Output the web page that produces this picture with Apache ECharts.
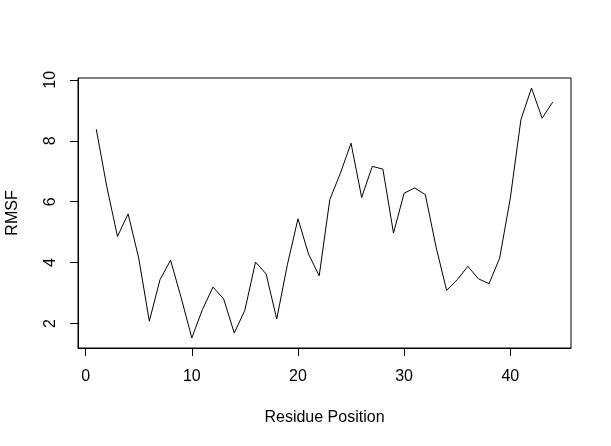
<!DOCTYPE html>
<html>
<head>
<meta charset="utf-8">
<script src="https://cdn.jsdelivr.net/npm/echarts@6/dist/echarts.min.js"></script>
<style>
  html, body { margin: 0; padding: 0; background: #fff; }
  #chart { width: 611px; height: 446px; }
</style>
</head>
<body>
<div id="chart"></div>
<script>
var chart = echarts.init(document.getElementById('chart'));

// residue numbers and RMSF values
var positions = [1, 2, 3, 4, 5, 6, 7, 8, 9, 10, 11, 12, 13, 14, 15, 16, 17, 18, 19, 20, 21, 22,
    23, 24, 25, 26, 27, 28, 29, 30, 31, 32, 33, 34, 35, 36, 37, 38, 39, 40, 41, 42, 43, 44];
var rmsf = [8.38, 6.48, 4.86, 5.60, 4.15, 2.08, 3.44, 4.08, 2.85, 1.53, 2.46, 3.20, 2.81, 1.69,
    2.44, 4.02, 3.63, 2.15, 3.93, 5.44, 4.28, 3.57, 6.07, 6.94, 7.92, 6.14, 7.16, 7.07,
    4.97, 6.28, 6.45, 6.23, 4.53, 3.09, 3.44, 3.88, 3.47, 3.31, 4.15, 6.11, 8.69, 9.73, 8.74, 9.27];
var xTicks = [0, 10, 20, 30, 40];
var yTicks = [2, 4, 6, 8, 10];

var font = 'Liberation Sans, Arial, sans-serif';

var option = {
    backgroundColor: '#fff',
    animation: false,
    grid: {
        left: 78,
        right: 40,
        top: 78,
        bottom: 98,
        containLabel: false,
        outerBoundsMode: 'none',
        show: true,
        borderColor: '#000',
        borderWidth: 1
    },
    xAxis: {
        type: 'value',
        min: -0.72,
        max: 45.72,
        name: 'Residue Position',
        nameLocation: 'middle',
        nameGap: 62,
        nameTextStyle: { color: '#000', fontSize: 16, fontFamily: font },
        axisLine: { show: true, onZero: false, lineStyle: { color: '#000', width: 1 } },
        axisTick: { show: true, length: 8, customValues: xTicks, lineStyle: { color: '#000' } },
        axisLabel: { customValues: xTicks, color: '#000', fontSize: 16, fontFamily: font, margin: 21 },
        splitLine: { show: false }
    },
    yAxis: {
        type: 'value',
        min: 1.2,
        max: 10.06,
        name: 'RMSF',
        nameLocation: 'middle',
        nameGap: 57,
        nameTextStyle: { color: '#000', fontSize: 16, fontFamily: font },
        axisLine: { show: true, onZero: false, lineStyle: { color: '#000', width: 1 } },
        axisTick: { show: true, length: 8, customValues: yTicks, lineStyle: { color: '#000' } },
        axisLabel: { customValues: yTicks, rotate: 90, color: '#000', fontSize: 16, fontFamily: font, margin: 19 },
        splitLine: { show: false }
    },
    series: [
        {
            type: 'line',
            data: positions.map(function (p, i) { return [p, rmsf[i]]; }),
            showSymbol: false,
            symbol: 'none',
            lineStyle: { color: '#000', width: 1 }
        }
    ]
};
chart.setOption(option);
</script>
</body>
</html>
